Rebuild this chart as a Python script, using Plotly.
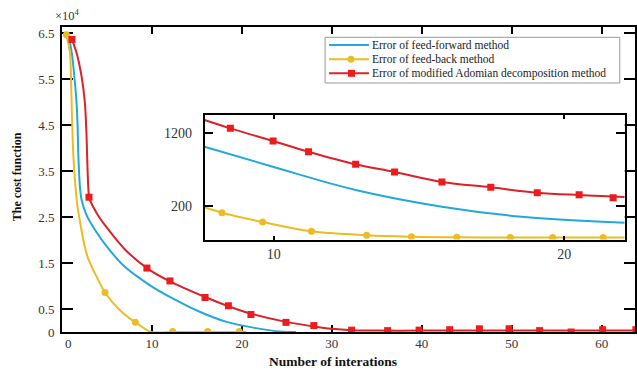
import plotly.graph_objects as go

# ---------------- main plot data (cost function, x10^4) ----------------
ff_x = [0.81, 1.14, 1.37, 1.62, 1.73, 1.81, 1.88, 1.99, 2.18, 2.73, 3.8, 4.9, 6.8, 9.74, 12.3, 15.3, 18.3, 21.4, 24.2, 26.0]
ff_y = [6.38, 5.99, 5.56, 4.97, 4.5, 3.88, 3.54, 3.16, 2.87, 2.54, 2.18, 1.88, 1.45, 1.02, 0.73, 0.44, 0.22, 0.09, 0.01, 0.0]

fb_x = [0.49, 0.89, 1.0, 1.07, 1.14, 1.25, 1.44, 1.73, 2.1, 2.5, 2.9, 3.65, 4.78, 6.41, 8.15, 9.9, 12.3, 16.2, 19.7, 20.5]
fb_y = [6.46, 6.06, 5.56, 4.97, 4.5, 3.88, 3.3, 2.72, 2.29, 1.88, 1.6, 1.28, 0.86, 0.48, 0.21, 0.0, 0.0, 0.0, 0.0, 0.0]
fb_mx = [0.49, 4.78, 8.15, 12.3, 16.2, 19.7]
fb_my = [6.46, 0.86, 0.21, 0.01, 0.01, 0.01]

md_x = [1.11, 1.63, 2.18, 2.55, 2.73, 2.84, 2.95, 3.05, 4.0, 5.1, 6.97, 9.44, 12.0, 15.9, 18.5, 21.0, 24.9, 28.0,
        30.0, 32.2, 35.0, 40.0, 45.0, 50.0, 55.0, 60.0, 63.7]
md_y = [6.36, 6.06, 5.55, 4.97, 4.25, 3.53, 3.05, 2.9, 2.54, 2.24, 1.8, 1.39, 1.1, 0.76, 0.56, 0.4, 0.22, 0.12,
        0.07, 0.04, 0.03, 0.03, 0.03, 0.03, 0.03, 0.03, 0.03]
md_mx = [1.11, 3.0, 9.44, 12.0, 15.9, 18.5, 21.0, 24.9, 28.0, 32.2, 36.2, 39.7, 43.1, 46.4, 49.7,
         53.1, 56.6, 60.1, 63.8]
md_my = [6.36, 2.93, 1.39, 1.11, 0.75, 0.57, 0.38, 0.21, 0.14, 0.04, 0.03, 0.04, 0.05, 0.07, 0.07,
         0.03, 0.0, 0.05, 0.05]

y_ticks = [0, 0.5, 1.5, 2.5, 3.5, 4.5, 5.5, 6.5]
y_ticktext = ["0", "0.5", "1.5", "2.5", "3.5", "4.5", "5.5", "6.5"]
x_ticks = [10, 20, 30, 40, 50, 60]

# ---------------- inset data ----------------
in_ff_x = [7.62, 9.97, 12.82, 15.79, 18.54, 22.08]
in_ff_y = [1012, 738, 419, 190, 53, -29]

in_fb_x = [7.62, 8.22, 9.62, 11.3, 13.2, 14.74, 16.3, 18.14, 19.6, 21.34, 22.08]
in_fb_y = [182, 108, -19, -147, -201, -221, -229, -231, -232, -232, -233]
in_fb_mx = [8.22, 9.62, 11.3, 13.2, 14.74, 16.3, 18.14, 19.6, 21.34]
in_fb_my = [108, -19, -147, -201, -221, -229, -231, -232, -232]

in_md_x = [7.62, 8.51, 9.98, 11.2, 12.82, 14.16, 15.79, 17.47, 19.07, 20.51, 21.68, 22.08]
in_md_y = [1378, 1264, 1090, 944, 771, 666, 529, 456, 382, 350, 330, 325]
in_md_mx = [8.51, 9.98, 11.2, 12.82, 14.16, 15.79, 17.47, 19.07, 20.51, 21.68]
in_md_my = [1264, 1090, 944, 771, 666, 529, 456, 382, 355, 314]
in_y_ticks = [200, 1200]
in_x_ticks = [10, 20]

legend_names = ["Error of feed-forward method",
                "Error of feed-back method",
                "Error of modified Adomian decomposition method"]

BLUE = "#22A8DA"
YELLOW = "#EDBB22"
RED_LINE = "#D8232A"
RED_MK = "#EE1B1B"
SERIF = "Liberation Serif"

fig = go.Figure()

SM = 0.7
# main curves
fig.add_trace(go.Scatter(x=ff_x, y=ff_y, mode="lines", line=dict(color=BLUE, width=2, shape="spline", smoothing=SM),
                         showlegend=False, xaxis="x", yaxis="y"))
fig.add_trace(go.Scatter(x=fb_x, y=fb_y, mode="lines", line=dict(color=YELLOW, width=2, shape="spline", smoothing=SM),
                         showlegend=False, xaxis="x", yaxis="y"))
fig.add_trace(go.Scatter(x=fb_mx, y=fb_my, mode="markers", marker=dict(color=YELLOW, size=7, symbol="circle"),
                         showlegend=False, xaxis="x", yaxis="y"))
fig.add_trace(go.Scatter(x=md_x, y=md_y, mode="lines", line=dict(color=RED_LINE, width=2, shape="spline", smoothing=SM),
                         showlegend=False, xaxis="x", yaxis="y"))
fig.add_trace(go.Scatter(x=md_mx, y=md_my, mode="markers", marker=dict(color=RED_MK, size=7, symbol="square"),
                         showlegend=False, xaxis="x", yaxis="y"))

# inset curves
fig.add_trace(go.Scatter(x=in_ff_x, y=in_ff_y, mode="lines", line=dict(color=BLUE, width=2, shape="spline"),
                         showlegend=False, xaxis="x2", yaxis="y2"))
fig.add_trace(go.Scatter(x=in_fb_x, y=in_fb_y, mode="lines", line=dict(color=YELLOW, width=2, shape="spline"),
                         showlegend=False, xaxis="x2", yaxis="y2"))
fig.add_trace(go.Scatter(x=in_fb_mx, y=in_fb_my, mode="markers", marker=dict(color=YELLOW, size=7),
                         showlegend=False, xaxis="x2", yaxis="y2"))
fig.add_trace(go.Scatter(x=in_md_x, y=in_md_y, mode="lines", line=dict(color=RED_LINE, width=2, shape="spline"),
                         showlegend=False, xaxis="x2", yaxis="y2"))
fig.add_trace(go.Scatter(x=in_md_mx, y=in_md_my, mode="markers", marker=dict(color=RED_MK, size=7, symbol="square"),
                         showlegend=False, xaxis="x2", yaxis="y2"))

W, H = 637, 372
ML, MR, MT, MB = 62, 0, 27, 40
PW, PH = W - ML - MR, H - MT - MB


def px(xp):
    return (xp - ML) / PW


def py(yp):
    return (H - MB - yp) / PH


axis_common = dict(showgrid=False, zeroline=False, showline=True, linecolor="black",
                   ticks="inside", tickcolor="black", mirror="allticks")

fig.update_layout(
    width=W, height=H, autosize=False,
    margin=dict(l=ML, r=MR, t=MT, b=MB),
    paper_bgcolor="white", plot_bgcolor="white",
    showlegend=False,
    xaxis=dict(range=[0, 63.7], domain=[0, 1], tickvals=x_ticks, ticklen=7, tickwidth=2, linewidth=2,
               tickfont=dict(family=SERIF, size=13, color="#333"), layer="below traces",
               ticklabelstandoff=-2, **axis_common),
    yaxis=dict(range=[0, 6.63], domain=[0, 1], tickvals=y_ticks, ticktext=y_ticktext, ticklen=11, tickwidth=2,
               linewidth=2, tickfont=dict(family=SERIF, size=13, color="#333"), layer="below traces",
               ticklabelstandoff=3, **axis_common),
    xaxis2=dict(range=[7.62, 22.08], domain=[px(205), px(626.7)], anchor="y2", tickvals=in_x_ticks,
                ticklen=4, tickwidth=1.5, linewidth=1.5,
                tickfont=dict(family=SERIF, size=14, color="#333"), ticklabelstandoff=1, **axis_common),
    yaxis2=dict(range=[-259, 1447], domain=[py(239.5), py(115)], anchor="x2", tickvals=in_y_ticks,
                ticklen=9, tickwidth=1.5, linewidth=1.5,
                tickfont=dict(family=SERIF, size=14, color="#333"), ticklabelstandoff=8, **axis_common),
)

# custom legend
shapes = [dict(type="rect", xref="paper", yref="paper", x0=px(326), x1=px(621.7), y0=py(83), y1=py(37.3),
               line=dict(color="#999", width=1), fillcolor="white", layer="above")]
annos = []
leg_y = [45, 59.3, 73.3]
leg_col = [BLUE, YELLOW, RED_LINE]
for i, (name, yy, col) in enumerate(zip(legend_names, leg_y, leg_col)):
    shapes.append(dict(type="line", xref="paper", yref="paper", x0=px(330), x1=px(370), y0=py(yy), y1=py(yy),
                       line=dict(color=col, width=2), layer="above"))
    annos.append(dict(text=name, xref="paper", yref="paper", x=px(371), y=py(yy), xanchor="left",
                      yanchor="middle", showarrow=False, font=dict(family=SERIF, size=11.5, color="#222")))
# legend symbols
shapes.append(dict(type="circle", xref="paper", yref="paper", x0=px(348.5), x1=px(355.5), y0=py(62.8),
                   y1=py(55.8), line=dict(color=YELLOW, width=0), fillcolor=YELLOW, layer="above"))
shapes.append(dict(type="rect", xref="paper", yref="paper", x0=px(349), x1=px(356), y0=py(76.8),
                   y1=py(69.8), line=dict(color=RED_MK, width=0), fillcolor=RED_MK, layer="above"))

annos.append(dict(text="\u00d710<sup>4</sup>", xref="paper", yref="paper", x=px(53), y=py(15), xanchor="left",
                  yanchor="middle", showarrow=False, font=dict(family=SERIF, size=12.5, color="#333")))
annos.append(dict(text="0", xref="paper", yref="paper", x=px(69), y=py(343), xanchor="center",
                  yanchor="middle", showarrow=False, font=dict(family=SERIF, size=13, color="#333")))
annos.append(dict(text="<b>Number of interations</b>", xref="paper", yref="paper", x=px(334), y=py(361),
                  xanchor="center", yanchor="middle", showarrow=False,
                  font=dict(family=SERIF, size=13.5, color="#111")))
annos.append(dict(text="<b>The cost function</b>", xref="paper", yref="paper", x=px(16.5), y=py(176.5),
                  xanchor="center", yanchor="middle", textangle=-90, showarrow=False,
                  font=dict(family=SERIF, size=12, color="#111")))

fig.update_layout(shapes=shapes, annotations=annos)
fig.write_html("out.html")
